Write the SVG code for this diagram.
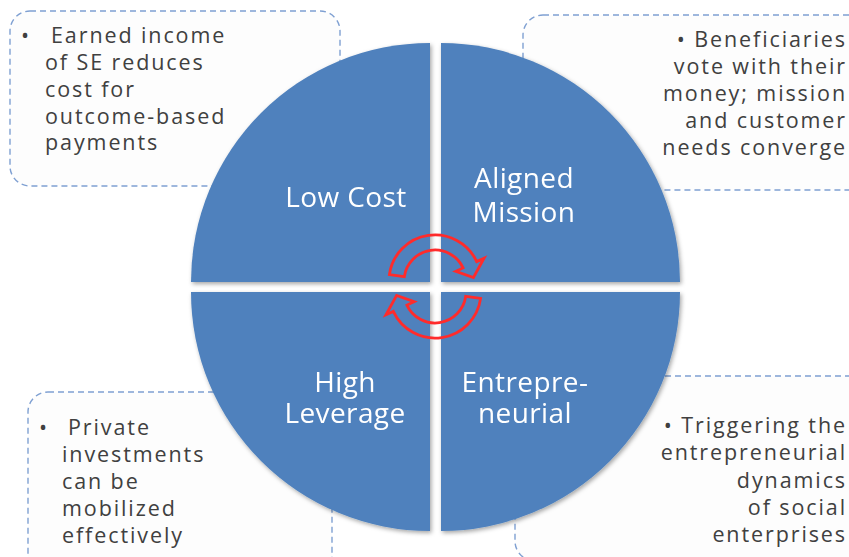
<svg xmlns="http://www.w3.org/2000/svg" width="849" height="557" viewBox="0 0 849 557">
<defs>
<filter id="sh" x="-10%" y="-10%" width="120%" height="120%">
<feDropShadow dx="1.5" dy="2" stdDeviation="2" flood-color="#000" flood-opacity="0.35"/>
</filter>
</defs>
<style>
.box{fill:#fdfdfd;stroke:#7fa0d2;stroke-width:1.4;stroke-dasharray:6 4}
.bt{font-family:"Open Sans","DejaVu Sans",sans-serif;font-size:21.5px;fill:#404040;letter-spacing:1.9px}
.q{fill:#4f81bd}
.ql{font-family:"Open Sans","DejaVu Sans",sans-serif;font-size:28px;fill:#ffffff;text-anchor:middle;letter-spacing:0.4px}
.arr{fill:none;stroke:#ff2b2b;stroke-width:2.8;stroke-linejoin:miter}
.r{text-anchor:end}
</style>
<rect width="849" height="557" fill="#ffffff"/>
<g id="box-tl">
<rect class="box" x="10" y="11" width="330" height="175" rx="20"/>
<text class="bt" x="21" y="43">•</text>
<text class="bt" x="51" y="43">Earned income</text>
<text class="bt" x="45" y="70">of SE reduces</text>
<text class="bt" x="45" y="97">cost for</text>
<text class="bt" x="45" y="124">outcome-based</text>
<text class="bt" x="45" y="150">payments</text>
</g>
<g id="box-tr">
<rect class="box" x="523" y="15" width="350" height="175" rx="20"/>
<text class="bt r" x="847" y="47">•  Beneficiaries</text>
<text class="bt r" x="847" y="74">vote with their</text>
<text class="bt r" x="847" y="101">money; mission</text>
<text class="bt r" x="847" y="128">and customer</text>
<text class="bt r" x="847" y="155">needs converge</text>
</g>
<g id="box-bl">
<rect class="box" x="28" y="392" width="304" height="190" rx="20"/>
<text class="bt" x="39" y="435">•</text>
<text class="bt" x="68" y="435">Private</text>
<text class="bt" x="62" y="462">investments</text>
<text class="bt" x="62" y="489">can be</text>
<text class="bt" x="62" y="516">mobilized</text>
<text class="bt" x="62" y="543">effectively</text>
</g>
<g id="box-br">
<rect class="box" x="515" y="376" width="360" height="185" rx="20"/>
<text class="bt r" x="847" y="433">•  Triggering the</text>
<text class="bt r" x="847" y="460">entrepreneurial</text>
<text class="bt r" x="847" y="488">dynamics</text>
<text class="bt r" x="847" y="515">of social</text>
<text class="bt r" x="847" y="542">enterprises</text>
</g>
<g id="q-lowcost" filter="url(#sh)">
<path class="q" d="M430,282 L191,282 A239,239 0 0 1 430,43 Z"/>
<text class="ql" x="346" y="207">Low Cost</text>
</g>
<g id="q-aligned" filter="url(#sh)">
<path class="q" d="M441,282 L441,43 A239,239 0 0 1 680,282 Z"/>
<text class="ql" x="524" y="188">Aligned</text>
<text class="ql" x="524" y="222">Mission</text>
</g>
<g id="q-leverage" filter="url(#sh)">
<path class="q" d="M430,292 L430,531 A239,239 0 0 1 191,292 Z"/>
<text class="ql" x="345" y="392">High</text>
<text class="ql" x="345" y="423">Leverage</text>
</g>
<g id="q-entre" filter="url(#sh)">
<path class="q" d="M441,292 L680,292 A239,239 0 0 1 441,531 Z"/>
<text class="ql" x="525" y="392">Entrepre-</text>
<text class="ql" x="525" y="423">neurial</text>
</g>
<g id="connectors">
<path id="arr-top" class="arr" d="M389.4,274.6 A46,46 0 0 1 476.7,261.6 L484,258.2 L473.4,277.6 L455.8,271.3 L463.1,267.9 A31,31 0 0 0 404.3,276.7 Z"/>
<path id="arr-bottom" class="arr" transform="rotate(180 435 286.5)" d="M389.4,274.6 A46,46 0 0 1 476.7,261.6 L484,258.2 L473.4,277.6 L455.8,271.3 L463.1,267.9 A31,31 0 0 0 404.3,276.7 Z"/>
</g>
</svg>
